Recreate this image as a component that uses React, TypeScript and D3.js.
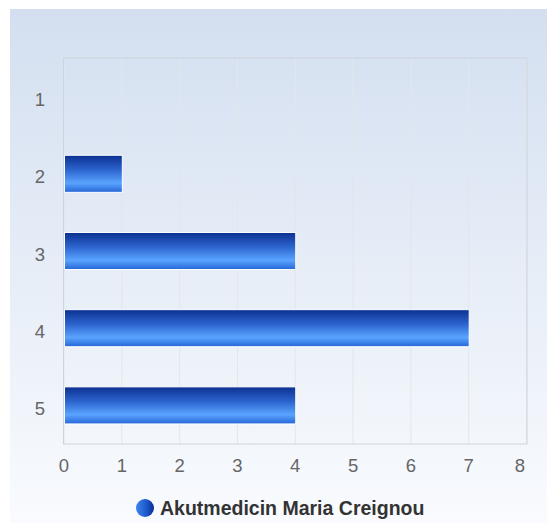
import React from "react";
import * as d3 from "d3";

const categories = ["1", "2", "3", "4", "5"];
const values = [0, 1, 4, 7, 4];
const xTicks = [0, 1, 2, 3, 4, 5, 6, 7, 8];
const seriesName = "Akutmedicin Maria Creignou";

const W = 547;
const H = 523;
const plot = { left: 64, right: 526.5, top: 58, bottom: 444 };

const App: React.FC = () => {
  const x = d3.scaleLinear().domain([0, 8]).range([plot.left, plot.right]);
  const y = d3
    .scaleBand<string>()
    .domain(categories)
    .range([plot.top, plot.bottom])
    .paddingInner(0.52)
    .paddingOuter(0.26);

  const font = "'Liberation Sans', Arial, sans-serif";
  // last label is pulled inside the chart edge, like the original
  const labelX = (t: number) => Math.min(x(t), W - 27);

  return (
    <svg
      width={W}
      height={H}
      style={{ position: "absolute", left: 0, top: 0 }}
      fontFamily={font}
    >
      <defs>
        <linearGradient id="bg" x1="0" y1="0" x2="0" y2="1">
          <stop offset="0" stopColor="#d3dff0" />
          <stop offset="1" stopColor="#f9fbfe" />
        </linearGradient>
        <linearGradient id="bar" x1="0" y1="0" x2="0" y2="1">
          <stop offset="0" stopColor="#0b3090" />
          <stop offset="0.4" stopColor="#2d65cf" />
          <stop offset="0.75" stopColor="#5aa4ff" />
          <stop offset="1" stopColor="#2566d6" />
        </linearGradient>
        <linearGradient id="leg" x1="0" y1="0" x2="1" y2="0">
          <stop offset="0" stopColor="#3a86f0" />
          <stop offset="0.6" stopColor="#1d55c8" />
          <stop offset="1" stopColor="#0b2f90" />
        </linearGradient>
      </defs>

      <rect x={10} y={9} width={W - 10} height={H - 9} fill="url(#bg)" />

      {xTicks.map((t) => (
        <line
          key={t}
          x1={x(t)}
          x2={x(t)}
          y1={plot.top}
          y2={plot.bottom}
          stroke="#e3e6ea"
          strokeWidth={1}
        />
      ))}

      <rect
        x={plot.left - 0.5}
        y={plot.top}
        width={plot.right - plot.left + 1}
        height={plot.bottom - plot.top}
        fill="none"
        stroke="#d0d4da"
        strokeWidth={1}
      />

      {categories.map((c, i) =>
        values[i] > 0 ? (
          <rect
            key={c}
            x={x(0) + 0.5}
            y={y(c)!}
            width={x(values[i]) - x(0)}
            height={y.bandwidth()}
            fill="url(#bar)"
            stroke="#ffffff"
            strokeWidth={1}
          />
        ) : null
      )}

      {categories.map((c) => (
        <text
          key={c}
          x={40}
          y={y(c)! + y.bandwidth() / 2 + 3}
          dy="0.36em"
          textAnchor="middle"
          fontSize={18.5}
          fill="#666666"
        >
          {c}
        </text>
      ))}

      {xTicks.map((t) => (
        <text
          key={t}
          x={labelX(t)}
          y={472}
          textAnchor="middle"
          fontSize={18.5}
          fill="#666666"
        >
          {t}
        </text>
      ))}

      <circle cx={145} cy={508} r={9} fill="url(#leg)" />
      <text x={160} y={515} fontSize={19.5} fontWeight="bold" fill="#333333">
        {seriesName}
      </text>
    </svg>
  );
};

export default App;
